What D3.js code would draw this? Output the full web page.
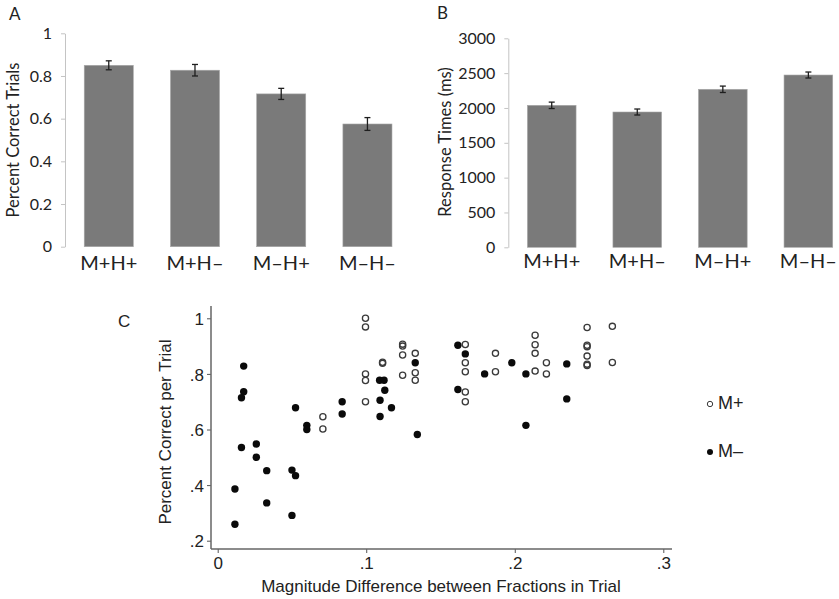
<!DOCTYPE html>
<html lang="en">
<head>
<meta charset="utf-8">
<title>Fractions</title>
<script src="https://cdn.jsdelivr.net/npm/d3@7"></script>
<style>
    body { margin: 0; background: #fff; }
    .ab text { font-family: Lato, "Open Sans", sans-serif; fill: #222; }
    .c text { font-family: "Liberation Sans", Arial, sans-serif; fill: #222; }
</style>
</head>
<body>
<script>
// ---- data ----
var conditions = ["M+H+", "M+H–", "M–H+", "M–H–"];
var accuracy = [0.850, 0.827, 0.716, 0.575];
var accuracyErr = [0.021, 0.027, 0.026, 0.030];
var rt = [2038, 1942, 2268, 2473];
var rtErr = [46, 43, 46, 43];
var accTicks = [0, 0.2, 0.4, 0.6, 0.8, 1];
var rtTicks = [0, 500, 1000, 1500, 2000, 2500, 3000];

// panel C: [magnitude difference, percent correct]
var mPlus = [
    [0.0708, 0.646], [0.0708, 0.602],
    [0.0995, 1.0], [0.0995, 0.969], [0.0995, 0.80], [0.0995, 0.776], [0.0995, 0.70],
    [0.111, 0.842], [0.111, 0.838],
    [0.1245, 0.907], [0.1245, 0.900], [0.1245, 0.868], [0.1245, 0.795],
    [0.133, 0.874], [0.133, 0.804], [0.133, 0.777],
    [0.1667, 0.906], [0.1667, 0.84], [0.1667, 0.808], [0.1667, 0.735], [0.1667, 0.70],
    [0.187, 0.874], [0.187, 0.808],
    [0.2137, 0.939], [0.2137, 0.905], [0.2137, 0.874], [0.2137, 0.81],
    [0.2213, 0.84], [0.2213, 0.80],
    [0.2487, 0.967], [0.2487, 0.903], [0.2487, 0.898], [0.2487, 0.864], [0.2487, 0.835], [0.2487, 0.83],
    [0.2657, 0.971], [0.2657, 0.841]
];
var mMinus = [
    [0.0175, 0.828], [0.0175, 0.736], [0.016, 0.714], [0.016, 0.535],
    [0.0116, 0.386], [0.0116, 0.259],
    [0.026, 0.548], [0.026, 0.50],
    [0.033, 0.452], [0.033, 0.336],
    [0.050, 0.454], [0.0524, 0.434], [0.0524, 0.678], [0.050, 0.291],
    [0.060, 0.615], [0.060, 0.60],
    [0.0838, 0.70], [0.0838, 0.656],
    [0.109, 0.777], [0.112, 0.777], [0.1125, 0.741], [0.1093, 0.705], [0.117, 0.678], [0.1093, 0.647],
    [0.133, 0.84], [0.1344, 0.582],
    [0.1617, 0.903], [0.1667, 0.872], [0.1617, 0.744],
    [0.1797, 0.80], [0.198, 0.84], [0.2075, 0.80], [0.2075, 0.615],
    [0.235, 0.836], [0.235, 0.71]
];
var cXTicks = [0, 0.1, 0.2, 0.3];
var cYTicks = [0.2, 0.4, 0.6, 0.8, 1];

var width = 839, height = 599;
var svg = d3.select("body").append("svg")
    .attr("width", width)
    .attr("height", height);

// ---- bar panels (A, B) ----
function barPanel(opt) {
    var g = svg.append("g").attr("class", "ab");
    var x = d3.scaleBand().domain(conditions).range(opt.xRange)
        .paddingInner(0.431).paddingOuter(0.223);
    var y = d3.scaleLinear().domain(opt.domain).range(opt.yRange);

    var yAxis = g.append("g")
        .attr("transform", `translate(${opt.xRange[0]},0)`)
        .call(d3.axisLeft(y).tickValues(opt.ticks).tickSize(4).tickSizeOuter(0)
            .tickPadding(9).tickFormat(d3.format("~g")));
    yAxis.select(".domain").attr("stroke", "#c4c4c4");
    yAxis.selectAll(".tick line").attr("stroke", "#c4c4c4");
    yAxis.selectAll(".tick text").attr("font-size", 16).attr("fill", "#222");

    g.selectAll("rect.bar")
        .data(opt.values)
        .join("rect")
        .attr("class", "bar")
        .attr("x", (d, i) => x(conditions[i]))
        .attr("width", x.bandwidth())
        .attr("y", d => y(d))
        .attr("height", d => y(0) - y(d))
        .attr("fill", "#7a7a7a")
        .attr("stroke", "#a8a8a8")
        .attr("stroke-width", 0.6);

    var eb = g.selectAll("g.err")
        .data(opt.values)
        .join("g")
        .attr("class", "err")
        .attr("stroke", "#1e1e1e")
        .attr("stroke-width", 1.3);
    eb.append("line")
        .attr("x1", (d, i) => x(conditions[i]) + x.bandwidth() / 2)
        .attr("x2", (d, i) => x(conditions[i]) + x.bandwidth() / 2)
        .attr("y1", (d, i) => y(d + opt.errors[i]))
        .attr("y2", (d, i) => y(d - opt.errors[i]));
    [1, -1].forEach(s => {
        eb.append("line")
            .attr("x1", (d, i) => x(conditions[i]) + x.bandwidth() / 2 - 3)
            .attr("x2", (d, i) => x(conditions[i]) + x.bandwidth() / 2 + 3)
            .attr("y1", (d, i) => y(d + s * opt.errors[i]))
            .attr("y2", (d, i) => y(d + s * opt.errors[i]));
    });

    g.selectAll("text.cat")
        .data(conditions)
        .join("text")
        .attr("class", "cat")
        .attr("x", d => x(d) + x.bandwidth() / 2)
        .attr("y", opt.catY)
        .attr("text-anchor", "middle")
        .attr("dominant-baseline", "middle")
        .attr("font-size", 20)
        .text(d => d);

    g.append("text")
        .attr("transform", `translate(${opt.labelX},${opt.labelY}) rotate(-90)`)
        .attr("text-anchor", "middle")
        .attr("dominant-baseline", "middle")
        .attr("font-size", 16.5)
        .text(opt.label);

    g.append("text")
        .attr("x", opt.letter[0])
        .attr("y", opt.letter[1])
        .attr("dominant-baseline", "middle")
        .attr("font-size", 17)
        .text(opt.letterText);
}

barPanel({
    values: accuracy, errors: accuracyErr, domain: [0, 1], ticks: accTicks,
    xRange: [65, 411.2], yRange: [246.7, 33.3], catY: 265,
    label: "Percent Correct Trials", labelX: 15, labelY: 140,
    letter: [9, 16], letterText: "A"
});
barPanel({
    values: rt, errors: rtErr, domain: [0, 3000], ticks: rtTicks,
    xRange: [508.3, 851.8], yRange: [247.3, 38.3], catY: 263,
    label: "Response Times (ms)", labelX: 447, labelY: 142,
    letter: [437, 15], letterText: "B"
});

// ---- scatter panel (C) ----
var gc = svg.append("g").attr("class", "c");
var cx = d3.scaleLinear().domain([0, 0.3]).range([217.7, 663.3]);
var cy = d3.scaleLinear().domain([0.2, 1]).range([540.7, 318.3]);
var axisLeft = 211, axisBottom = 549;
var fmt = d => d === 0 ? "0" : d === 1 ? "1" : d3.format(".1f")(d).replace(/^0/, "");

var xa = gc.append("g")
    .attr("transform", `translate(0,${axisBottom})`)
    .call(d3.axisBottom(cx).tickValues(cXTicks).tickSize(4).tickSizeOuter(0).tickPadding(4).tickFormat(fmt));
xa.select(".domain").remove();
xa.selectAll(".tick line").attr("stroke", "#555");
xa.selectAll(".tick text").attr("font-size", 17).attr("fill", "#222");

var ya = gc.append("g")
    .attr("transform", `translate(${axisLeft},0)`)
    .call(d3.axisLeft(cy).tickValues(cYTicks).tickSize(4).tickSizeOuter(0).tickPadding(3).tickFormat(fmt));
ya.select(".domain").remove();
ya.selectAll(".tick line").attr("stroke", "#555");
ya.selectAll(".tick text").attr("font-size", 17).attr("fill", "#222").attr("dy", "0.36em");

gc.append("line")
    .attr("x1", axisLeft).attr("x2", 672)
    .attr("y1", axisBottom).attr("y2", axisBottom)
    .attr("stroke", "#666").attr("stroke-width", 1.5);
gc.append("line")
    .attr("x1", axisLeft).attr("x2", axisLeft)
    .attr("y1", 306).attr("y2", axisBottom)
    .attr("stroke", "#666").attr("stroke-width", 1.5);

gc.selectAll("circle.plus")
    .data(mPlus)
    .join("circle")
    .attr("class", "plus")
    .attr("cx", d => cx(d[0]))
    .attr("cy", d => cy(d[1]))
    .attr("r", 3.1)
    .attr("fill", "none")
    .attr("stroke", "#3a3a3a")
    .attr("stroke-width", 1.3);

gc.selectAll("circle.minus")
    .data(mMinus)
    .join("circle")
    .attr("class", "minus")
    .attr("cx", d => cx(d[0]))
    .attr("cy", d => cy(d[1]))
    .attr("r", 3.7)
    .attr("fill", "#0a0a0a");

gc.append("text")
    .attr("transform", "translate(167,432) rotate(-90)")
    .attr("text-anchor", "middle")
    .attr("dominant-baseline", "middle")
    .attr("font-size", 17)
    .text("Percent Correct per Trial");

gc.append("text")
    .attr("x", 441)
    .attr("y", 588)
    .attr("text-anchor", "middle")
    .attr("dominant-baseline", "middle")
    .attr("font-size", 17)
    .text("Magnitude Difference between Fractions in Trial");

gc.append("text")
    .attr("x", 118)
    .attr("y", 323)
    .attr("dominant-baseline", "middle")
    .attr("font-family", "Lato, sans-serif")
    .attr("font-size", 17)
    .text("C");

// legend
var legend = gc.append("g");
legend.append("circle")
    .attr("cx", 710).attr("cy", 404).attr("r", 2.7)
    .attr("fill", "none").attr("stroke", "#3a3a3a").attr("stroke-width", 1);
legend.append("text")
    .attr("x", 718).attr("y", 404)
    .attr("dominant-baseline", "middle")
    .attr("font-size", 18)
    .text("M+");
legend.append("circle")
    .attr("cx", 710).attr("cy", 452).attr("r", 3)
    .attr("fill", "#0a0a0a");
legend.append("text")
    .attr("x", 718).attr("y", 452)
    .attr("dominant-baseline", "middle")
    .attr("font-size", 18)
    .text("M–");
</script>
</body>
</html>
